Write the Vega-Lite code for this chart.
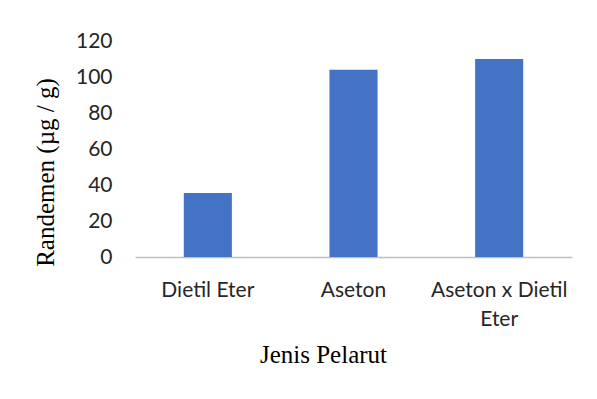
{
  "$schema": "https://vega.github.io/schema/vega-lite/v6.json",
  "width": 437,
  "height": 216,
  "autosize": {"type": "none"},
  "padding": {"left": 135, "top": 41, "right": 25, "bottom": 142},
  "background": "white",
  "config": {"view": {"stroke": null}},
  "data": {
    "values": [
      {"pelarut": "Dietil Eter", "randemen": 35.5},
      {"pelarut": "Aseton", "randemen": 104},
      {"pelarut": "Aseton x Dietil Eter", "randemen": 110}
    ]
  },
  "mark": {"type": "bar", "color": "#4472C4"},
  "encoding": {
    "x": {
      "field": "pelarut",
      "type": "nominal",
      "sort": null,
      "scale": {"paddingInner": 0.67, "paddingOuter": 0.335},
      "axis": {
        "title": "Jenis Pelarut",
        "titleFont": "Liberation Serif",
        "titleFontSize": 25,
        "titleFontWeight": "normal",
        "titleColor": "#000000",
        "titleX": 188,
        "titleY": 105,
        "titleAlign": "center",
        "titleBaseline": "alphabetic",
        "labelAngle": 0,
        "labelFont": "Lato",
        "labelFontSize": 21,
        "labelColor": "#262626",
        "labelPadding": 22,
        "labelLineHeight": 29,
        "labelExpr": "datum.label == 'Aseton x Dietil Eter' ? ['Aseton x Dietil', 'Eter'] : datum.label",
        "ticks": false,
        "domainColor": "#BFBFBF",
        "domainWidth": 1.5
      }
    },
    "y": {
      "field": "randemen",
      "type": "quantitative",
      "scale": {"domain": [0, 120], "nice": false},
      "axis": {
        "values": [0, 20, 40, 60, 80, 100, 120],
        "title": "Randemen (µg / g)",
        "titleFont": "Liberation Serif",
        "titleFontSize": 25,
        "titleFontWeight": "normal",
        "titleColor": "#000000",
        "titleAngle": -90,
        "titleX": -90,
        "titleY": 131,
        "titleAlign": "center",
        "titleBaseline": "middle",
        "labelFont": "Lato",
        "labelFontSize": 21,
        "labelColor": "#262626",
        "labelPadding": 23,
        "ticks": false,
        "domain": false,
        "grid": false
      }
    }
  }
}
